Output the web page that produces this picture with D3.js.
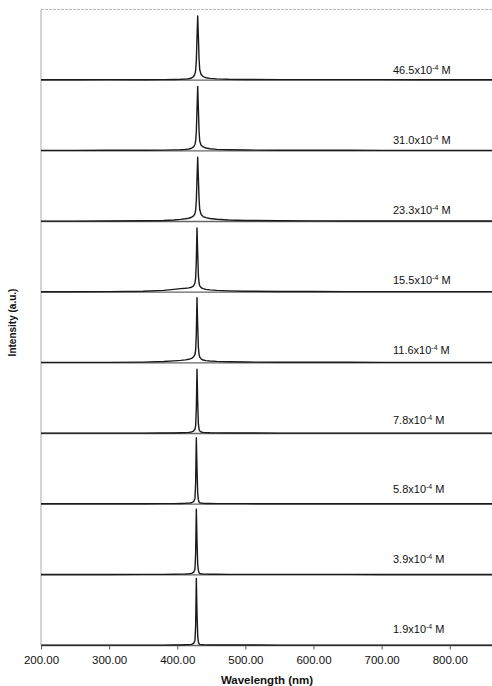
<!DOCTYPE html>
<html>
<head>
<meta charset="utf-8">
<script src="https://cdn.jsdelivr.net/npm/d3@7"></script>
<style>
  body { margin: 0; background: #fff; }
  text { font-family: "Liberation Sans", Arial, sans-serif; }
</style>
</head>
<body>
<div id="chart"></div>
<script>
// concentrations, top panel first (x10^-4 M)
const concLabels = ["46.5", "31.0", "23.3", "15.5", "11.6", "7.8", "5.8", "3.9", "1.9"];

// wavelength grid (nm), shared by all spectra
const wavelengths = [200, 250, 300, 350, 380, 395, 405, 412, 417, 421, 424, 426, 427, 428, 429, 430,
  431, 432, 433, 435, 438, 442, 448, 458, 475, 500, 550, 600, 650, 700, 750, 800, 862];

// intensities, 0-100 = full panel height
const s465 = [0.5, 0.5, 0.8, 0.6, 0.8, 1, 1.2, 1.5, 2, 3, 5, 9, 14, 28, 60, 91, 62, 30, 15, 8, 5, 3.5, 2.5, 1.8, 1.2, 1, 0.8, 0.8, 0.7, 0.7, 0.6, 0.6, 0.6];
const s310 = [0.6, 0.6, 0.8, 0.8, 1, 1.3, 1.6, 2, 2.6, 3.6, 5.5, 9, 14, 27, 58, 91, 60, 28, 14, 8, 5.5, 4, 3, 2, 1.5, 1.1, 0.9, 0.8, 0.8, 0.7, 0.7, 0.6, 0.6];
const s233 = [0.6, 0.6, 0.7, 1, 1.5, 2.2, 3, 3.8, 4.6, 6, 8, 11, 16, 30, 60, 91, 62, 32, 17, 10, 7, 5.5, 4.2, 3.2, 2.2, 1.5, 1, 0.9, 0.8, 0.8, 0.7, 0.7, 0.7];
const s155 = [0.6, 0.6, 0.8, 1.2, 2.5, 4, 5, 5.5, 6, 7, 9, 13, 20, 45, 91, 55, 24, 13, 9, 6.5, 5, 4, 3.2, 2.5, 1.8, 1.3, 1, 0.9, 0.8, 0.8, 0.7, 0.7, 0.7];
const s116 = [0.6, 0.6, 0.7, 1, 1.8, 2.8, 3.5, 4.2, 5, 6.2, 8.5, 12, 18, 42, 92, 52, 22, 12, 8, 5.5, 4, 3.2, 2.6, 2, 1.5, 1.1, 0.9, 0.8, 0.8, 0.7, 0.7, 0.7, 0.7];
const s78 = [0.5, 0.5, 0.6, 0.6, 0.7, 0.8, 1, 1.2, 1.6, 2.2, 3.5, 6, 11, 35, 91, 45, 14, 6, 3.5, 2.2, 1.6, 1.2, 1, 0.9, 0.8, 0.7, 0.6, 0.6, 0.6, 0.5, 0.5, 0.5, 0.5];
const s58 = [0.5, 0.5, 0.6, 0.6, 0.7, 0.8, 1, 1.2, 1.5, 2, 3.5, 8, 30, 94, 50, 16, 6, 3, 2, 1.5, 1.2, 1, 0.9, 0.8, 0.7, 0.7, 0.6, 0.6, 0.6, 0.5, 0.5, 0.5, 0.5];
const s39 = [0.5, 0.5, 0.5, 0.6, 0.7, 0.8, 1, 1.2, 1.5, 2, 3.5, 8, 30, 93, 48, 15, 6, 3, 2, 1.5, 1.2, 1, 0.9, 0.8, 0.7, 0.7, 0.6, 0.6, 0.6, 0.5, 0.5, 0.5, 0.5];
const s19 = [0.5, 0.5, 0.5, 0.5, 0.6, 0.7, 0.8, 1, 1.2, 1.6, 3, 7, 28, 95, 46, 14, 5, 2.5, 1.6, 1.2, 1, 0.9, 0.8, 0.8, 0.7, 0.7, 0.6, 0.6, 0.6, 0.5, 0.5, 0.5, 0.5];
const spectra = [s465, s310, s233, s155, s116, s78, s58, s39, s19];

const xTicks = [200, 300, 400, 500, 600, 700, 800];

function draw_spectra(container_id) {
  const width = 492;
  const height = 686;
  const margin = { top: 9.5, right: 0, bottom: 40.5, left: 41 };
  const plotBottom = height - margin.bottom;
  const panelH = (plotBottom - margin.top) / spectra.length;

  const svg = d3.select(container_id)
    .append("svg")
    .attr("width", width)
    .attr("height", height)
    .style("background", "#fff");

  const x = d3.scaleLinear().domain([200, 862]).range([margin.left, width - margin.right]);

  // top border
  svg.append("line")
    .attr("x1", margin.left).attr("x2", width)
    .attr("y1", margin.top).attr("y2", margin.top)
    .style("stroke", "#bbb")
    .style("stroke-width", 1)
    .style("stroke-dasharray", "3,1");

  // left axis line
  svg.append("line")
    .attr("x1", margin.left).attr("x2", margin.left)
    .attr("y1", margin.top).attr("y2", plotBottom)
    .style("stroke", "#aaa")
    .style("stroke-width", 1);

  spectra.forEach((vals, i) => {
    const base = margin.top + panelH * (i + 1);
    const y = d3.scaleLinear().domain([0, 100]).range([base, base - panelH]);
    const g = svg.append("g").attr("class", "panel");

    // panel baseline
    g.append("line")
      .attr("x1", margin.left).attr("x2", width)
      .attr("y1", base).attr("y2", base)
      .style("stroke", "#666")
      .style("stroke-width", 1.3);

    const line = d3.line()
      .x((d, k) => x(wavelengths[k]))
      .y((d) => y(d));

    g.append("path")
      .attr("d", line(vals))
      .attr("fill", "none")
      .attr("stroke", "#1a1a1a")
      .attr("stroke-width", 1.4)
      .attr("stroke-linejoin", "round");

    // concentration label
    const t = g.append("text")
      .attr("x", 393)
      .attr("y", base - (6 + i * 0.8))
      .style("font-size", "11px")
      .style("fill", "#111");
    t.append("tspan").text(concLabels[i] + "x10");
    t.append("tspan").attr("dy", -4).style("font-size", "7px").text("-4");
    t.append("tspan").attr("dy", 4).text(" M");
  });

  // x axis
  const xAxis = d3.axisBottom(x)
    .tickValues(xTicks)
    .tickFormat(d3.format(".2f"))
    .tickSize(4)
    .tickSizeOuter(0);

  const ax = svg.append("g")
    .attr("transform", `translate(0,${plotBottom})`)
    .call(xAxis);
  ax.select(".domain").remove();
  ax.selectAll(".tick line").style("stroke", "#555");
  ax.selectAll(".tick text")
    .attr("y", 10)
    .style("font-size", "11.5px")
    .style("font-family", "'Liberation Sans', Arial, sans-serif")
    .style("fill", "#111");

  // axis titles
  svg.append("text")
    .attr("x", (margin.left + width) / 2 + 0.5)
    .attr("y", 684)
    .attr("text-anchor", "middle")
    .style("font-size", "11.5px")
    .style("font-weight", "bold")
    .style("fill", "#111")
    .text("Wavelength (nm)");

  svg.append("text")
    .attr("transform", `translate(16,${(margin.top + plotBottom) / 2 - 5}) rotate(-90)`)
    .attr("text-anchor", "middle")
    .style("font-size", "10px")
    .style("font-weight", "bold")
    .style("fill", "#111")
    .text("Intensity (a.u.)");
}

draw_spectra("#chart");
</script>
</body>
</html>
